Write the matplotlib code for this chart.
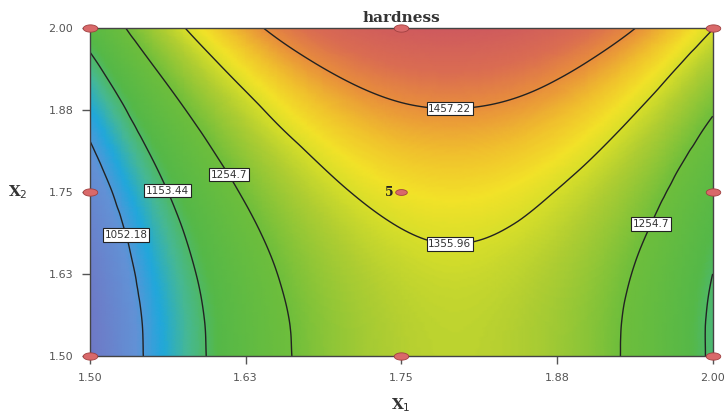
import numpy as np
import matplotlib
matplotlib.use("Agg")
import matplotlib.pyplot as plt
import matplotlib.tri as mtri
from matplotlib.path import Path
from matplotlib.colors import LinearSegmentedColormap

# factor levels (X1 across, X2 up)
x1 = [1.50, 1.55, 1.60, 1.65, 1.70, 1.75, 1.80, 1.85, 1.90, 1.95, 2.00]
x2 = [1.50, 1.55, 1.60, 1.65, 1.70, 1.75, 1.80, 1.85, 1.90, 1.95, 2.00]

# hardness, one row per X2 level (bottom to top)
hardness = [
    [949, 1068, 1165, 1240, 1292, 1323, 1331, 1318, 1282, 1224, 1144],
    [951, 1070, 1167, 1242, 1294, 1325, 1333, 1319, 1283, 1225, 1144],
    [959, 1078, 1174, 1249, 1301, 1331, 1339, 1325, 1289, 1230, 1149],
    [971, 1090, 1186, 1260, 1312, 1342, 1350, 1335, 1299, 1240, 1159],
    [988, 1106, 1202, 1276, 1328, 1358, 1365, 1351, 1314, 1255, 1174],
    [1009, 1127, 1223, 1297, 1349, 1378, 1385, 1370, 1333, 1274, 1193],
    [1036, 1153, 1249, 1322, 1374, 1403, 1410, 1395, 1358, 1298, 1217],
    [1066, 1184, 1279, 1353, 1404, 1433, 1439, 1424, 1387, 1327, 1245],
    [1102, 1219, 1314, 1387, 1438, 1467, 1473, 1458, 1420, 1360, 1278],
    [1142, 1259, 1354, 1427, 1477, 1506, 1512, 1496, 1458, 1398, 1316],
    [1186, 1303, 1398, 1471, 1521, 1549, 1555, 1539, 1501, 1441, 1358],
]

levels = [1052.18, 1153.44, 1254.7, 1355.96, 1457.22]

# design points (edges/corners), centre point drawn separately
pts_x1 = [1.50, 1.75, 2.00, 1.50, 2.00, 1.50, 1.75, 2.00]
pts_x2 = [1.50, 1.50, 1.50, 1.75, 1.75, 2.00, 2.00, 2.00]
centre = (1.75, 1.75)

ticks = [1.50, 1.625, 1.75, 1.875, 2.00]
tick_labels = ["1.50", "1.63", "1.75", "1.88", "2.00"]

# where the contour labels sit
label_pos = [(1.528, 1.684), (1.563, 1.753), (1.612, 1.777),
             (1.789, 1.675), (1.789, 1.880), (1.951, 1.701)]

X, Y = np.meshgrid(x1, x2)
Z = np.array(hardness, dtype=float)

# smooth the grid with matplotlib's cubic tri refiner
tri = mtri.Triangulation(X.ravel(), Y.ravel())
refiner = mtri.UniformTriRefiner(tri)
interp = mtri.CubicTriInterpolator(tri, Z.ravel(), kind="geom")
tri_f, z_f = refiner.refine_field(Z.ravel(), triinterpolator=interp, subdiv=4)

vmin, vmax = 940, 1560
stops = [
    (940, (112, 118, 196)),
    (1040, (98, 146, 214)),
    (1085, (32, 168, 220)),
    (1125, (70, 184, 150)),
    (1170, (85, 184, 72)),
    (1255, (110, 190, 60)),
    (1320, (175, 205, 50)),
    (1355, (215, 222, 42)),
    (1380, (242, 226, 40)),
    (1415, (240, 192, 45)),
    (1457, (232, 142, 60)),
    (1500, (218, 108, 82)),
    (1560, (205, 88, 95)),
]
cmap = LinearSegmentedColormap.from_list(
    "dx", [((v - vmin) / (vmax - vmin), tuple(c / 255 for c in col)) for v, col in stops])

fig = plt.figure(figsize=(7.25, 4.17), dpi=100)
ax = fig.add_axes([0.124, 0.146, 0.859, 0.787])

ax.tripcolor(tri_f, z_f, cmap=cmap, vmin=vmin, vmax=vmax, shading="gouraud")
cs = ax.tricontour(tri_f, z_f, levels=levels, colors="#222222", linewidths=1.0)
lbls = ax.clabel(cs, fmt=lambda v: f"{v:g}", manual=label_pos, inline=False,
                 fontsize=7.5, colors="#333333")
for t in lbls:
    t.set_rotation(0)
    t.set_zorder(4)
    t.set_bbox(dict(facecolor="white", edgecolor="#222222", linewidth=0.8, pad=1.2))

theta = np.linspace(0, 2 * np.pi, 40)
ellipse = Path(np.column_stack([np.cos(theta), 0.5 * np.sin(theta)]))
ax.scatter(pts_x1, pts_x2, s=110, marker=ellipse, color="#d9696a", edgecolor="#a04040",
           linewidth=0.6, clip_on=False, zorder=5)
ax.scatter([centre[0]], [centre[1]], s=70, marker=ellipse, color="#d9696a",
           edgecolor="#a04040", linewidth=0.6, zorder=5)
ax.text(1.744, 1.75, "5", ha="right", va="center", fontsize=9, fontweight="bold",
        family="DejaVu Serif", color="#222222", zorder=6)

ax.set_xlim(1.50, 2.00)
ax.set_ylim(1.50, 2.00)
ax.set_xticks(ticks)
ax.set_xticklabels(tick_labels)
ax.set_yticks(ticks)
ax.set_yticklabels(tick_labels)
ax.tick_params(direction="out", length=6, width=1, colors="#555555", labelsize=8,
               pad=6, labelcolor="#555555")
for s in ax.spines.values():
    s.set_color("#444444")
    s.set_linewidth(1)

ax.set_title("hardness", fontsize=11, fontweight="bold", family="DejaVu Serif",
             color="#333333", pad=4)
ax.set_xlabel("X$_1$", fontsize=11, fontweight="bold", family="DejaVu Serif",
              color="#333333", labelpad=10)
ax.set_ylabel("X$_2$", fontsize=11, fontweight="bold", family="DejaVu Serif",
              color="#333333", rotation=0, labelpad=22, va="center")

fig.savefig("out.png", dpi=100)
